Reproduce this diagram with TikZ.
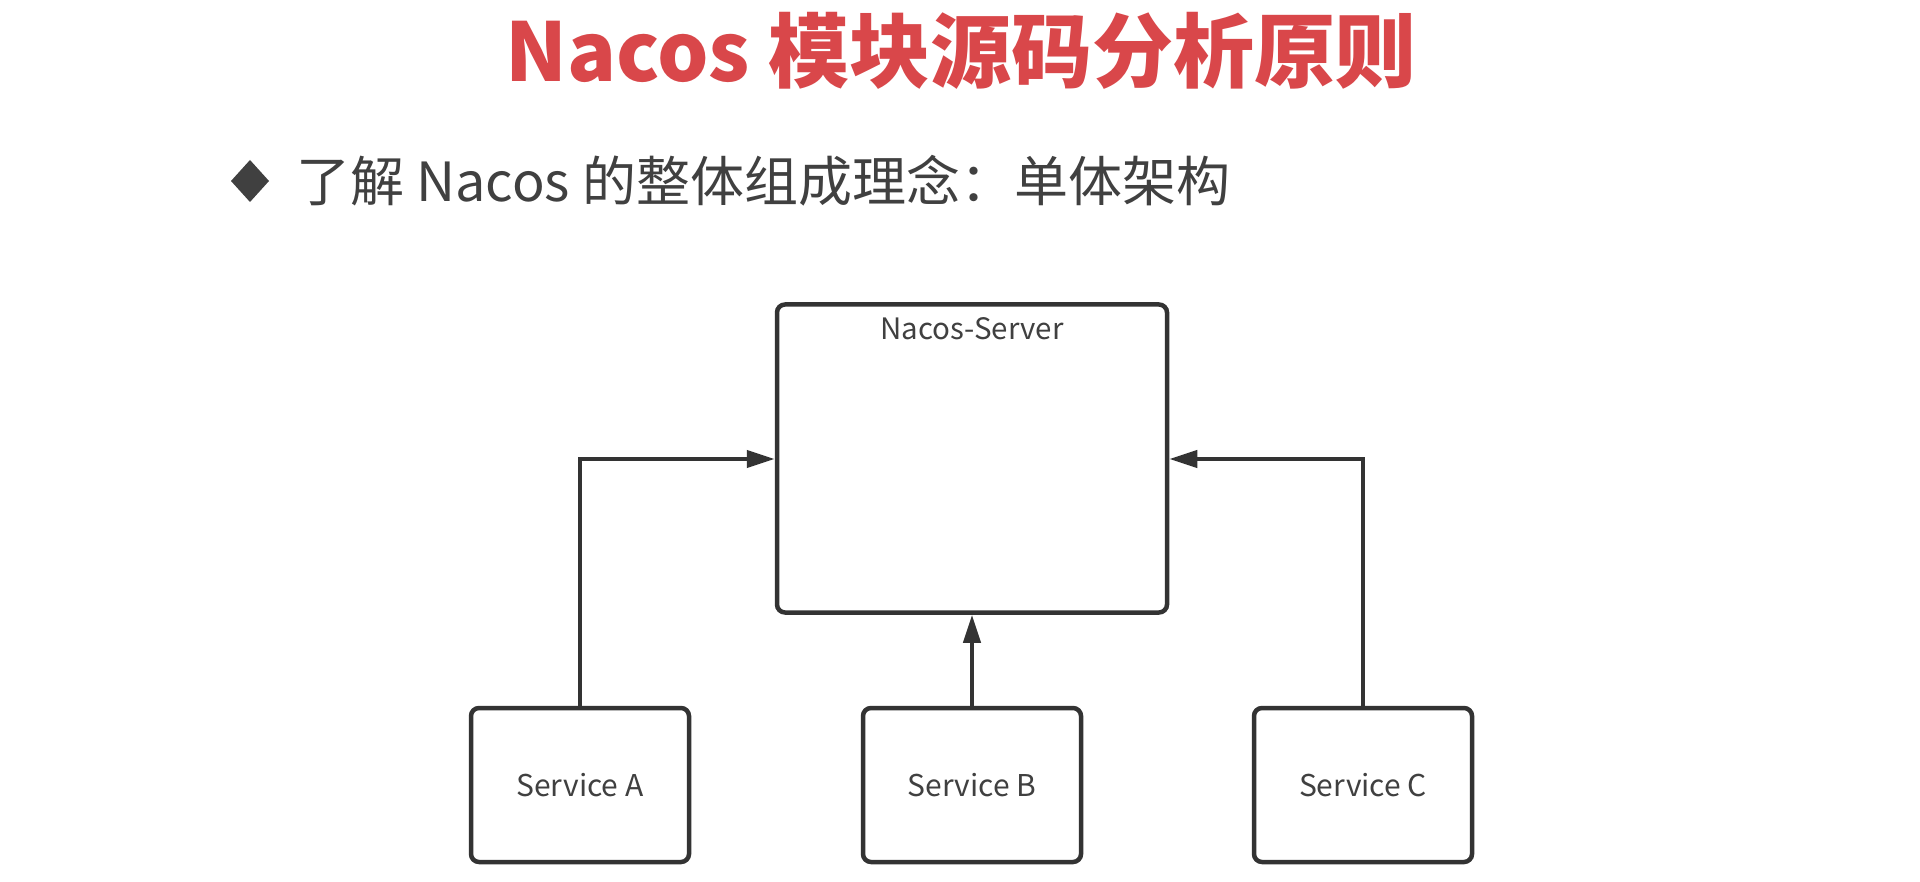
\documentclass[tikz,border=0pt]{standalone}
\usepackage{fontspec}
\setmainfont{Noto Sans CJK SC}
\newfontfamily\cjk{Noto Sans CJK SC}
\usetikzlibrary{arrows.meta}
\definecolor{titlered}{HTML}{D9474A}
\definecolor{textgray}{HTML}{404040}
\definecolor{linegray}{HTML}{333333}
\tikzset{
  box/.style={draw=linegray, line width=4.5pt, rounded corners=8pt, fill=white, inner sep=0pt},
  lbl/.style={text=textgray, inner sep=0pt, font=\cjk\fontsize{30}{36}\selectfont},
  conn/.style={draw=linegray, line width=4pt, -{Triangle[length=28pt,width=17pt]}},
}
\begin{document}
\begin{tikzpicture}[x=1pt,y=-1pt]
\useasboundingbox (0,0) rectangle (1920,882);
\fill[white] (0,0) rectangle (1920,882);
% title
\node[inner sep=0pt, text=titlered, font=\cjk\bfseries\fontsize{81}{90}\selectfont] (title) at (961,51) {Nacos 模块源码分析原则};
% bullet
\fill[textgray] (250,160) -- (269,181) -- (250,202) -- (231,181) -- cycle;
\node[anchor=west, inner sep=0pt, text=textgray, font=\cjk\fontsize{54}{60}\selectfont] (sub) at (296,181) {了解 Nacos 的整体组成理念：单体架构};
% boxes
\node[box, minimum width=390pt, minimum height=308pt] (server) at (972,458.5) {};
\node[lbl, font=\cjk\fontsize{29.5}{34}\selectfont] (stext) at (972,329) {Nacos-Server};
\node[box, minimum width=218pt, minimum height=154pt] (sa) at (580,785) {};
\node[box, minimum width=218pt, minimum height=154pt] (sb) at (972,785) {};
\node[box, minimum width=218pt, minimum height=154pt] (sc) at (1363,785) {};
\node[lbl] at (sa.center) {Service A};
\node[lbl] at (sb.center) {Service B};
\node[lbl] at (sc.center) {Service C};
% connectors
\coordinate (ca) at (580,459);
\coordinate (cc) at (1363,459);
\draw[conn] (sa.north) -- (ca) -- (server.west |- ca);
\draw[conn] (sb.north) -- (server.south);
\draw[conn] (sc.north) -- (cc) -- (server.east |- cc);
\end{tikzpicture}
\end{document}
